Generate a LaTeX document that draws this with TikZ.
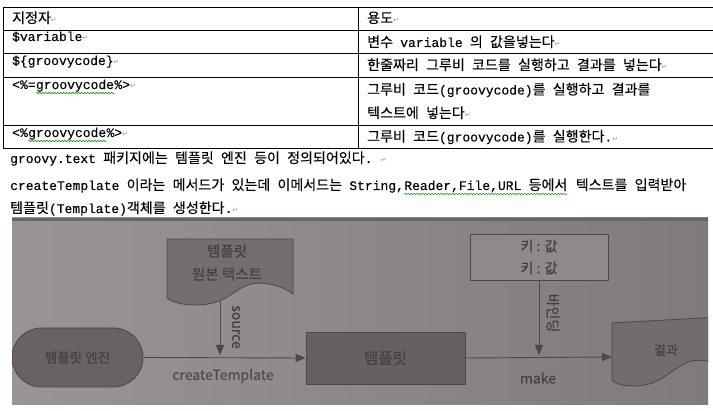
\documentclass[tikz,border=0pt]{standalone}
\usepackage{fontspec}
\setmainfont{Noto Sans CJK KR}[WordSpace=2.3, Scale=1.08, FakeBold=0.1]
\setmonofont{Liberation Mono}[FakeBold=0.15]
\newfontfamily\dejavu{DejaVu Sans}
\newfontfamily\dgm{Noto Sans CJK KR}[FakeBold=0.6]
\usetikzlibrary{arrows.meta,decorations.pathmorphing}
\definecolor{bgL}{RGB}{154,148,149}
\definecolor{bgR}{RGB}{128,122,124}
\definecolor{bandC}{RGB}{105,100,104}
\definecolor{edgeC}{RGB}{76,71,74}
\definecolor{txtC}{RGB}{68,63,66}
\definecolor{labC}{RGB}{78,76,86}
\definecolor{stadC}{RGB}{104,98,100}
\definecolor{tplC}{RGB}{102,96,98}
\definecolor{docC}{RGB}{116,110,112}
\definecolor{keyC}{RGB}{142,137,138}
\definecolor{resC}{RGB}{114,108,110}
\definecolor{retC}{RGB}{150,150,150}
\newcommand{\myret}{{\dejavu\fontsize{7}{7}\selectfont\color{retC}↵}}
\begin{document}
\begin{tikzpicture}[x=1pt,y=-1pt,
  tbl/.style={draw=black, line width=0.8pt},
  cell/.style={anchor=base west, inner sep=0pt, font=\fontsize{13}{15}\selectfont},
  wav/.style={draw=green!55!black, line width=0.5pt, decorate,
    decoration={snake, amplitude=0.7pt, segment length=3pt}},
  shp/.style={draw=edgeC, line width=0.8pt},
  lab/.style={inner sep=0pt, font=\dgm\fontsize{14}{16}\selectfont, text=txtC},
  arr/.style={draw=edgeC, line width=0.9pt, -{Triangle[length=10pt,width=8pt]}},
]
\useasboundingbox (0,0) rectangle (713,411);
\fill[white] (0,0) rectangle (713,411);

% ---------- table ----------
\draw[tbl] (3,7) -- (713,7);
\draw[tbl] (3,30) -- (713,30);
\draw[tbl] (3,53) -- (713,53);
\draw[tbl] (3,77) -- (713,77);
\draw[tbl] (3,125) -- (713,125);
\draw[tbl] (3,148) -- (713,148);
\draw[tbl] (3,7) -- (3,148);
\draw[tbl] (358,7) -- (358,148);

\node[cell] (h1) at (12,23) {지정자\myret};
\node[cell] (h2) at (367,23) {용도\myret};
\node[cell] (l1) at (12,41) {\texttt{\$variable}\myret};
\node[cell] (r1) at (367,47) {변수 \texttt{variable} 의 값을넣는다\myret};
\node[cell] (l2) at (12,65) {\texttt{\$\{groovycode\}}\myret};
\node[cell] (r2) at (367,70) {한줄짜리 그루비 코드를 실행하고 결과를 넣는다\myret};
\node[cell] (l3a) at (12,89) {\texttt{<\%=}};
\node[cell] (l3b) at (l3a.base east) {\texttt{groovycode}};
\node[cell] (l3c) at (l3b.base east) {\texttt{\%>}\myret};
\draw[wav] ([yshift=-4pt]l3b.base west) -- ([yshift=-4pt]l3b.base east);
\node[cell] (r3a) at (367,94.5) {그루비 코드\texttt{(groovycode)}를 실행하고 결과를};
\node[cell] (r3b) at (367,118) {텍스트에 넣는다\myret};
\node[cell] (l4a) at (12,137) {\texttt{<\%}};
\node[cell] (l4b) at (l4a.base east) {\texttt{groovycode}};
\node[cell] (l4c) at (l4b.base east) {\texttt{\%>}\myret};
\draw[wav] ([yshift=-4pt]l4b.base west) -- ([yshift=-4pt]l4b.base east);
\node[cell] (r4) at (367,141.5) {그루비 코드\texttt{(groovycode)}를 실행한다\texttt{.}\myret};

% ---------- paragraph lines ----------
\node[cell] (t1) at (10,163) {\texttt{groovy.text} 패키지에는 템플릿 엔진 등이 정의되어있다\texttt{.} \myret};
\node[cell] (t2a) at (10,190) {\texttt{createTemplate} 이라는 메서드가 있는데 이메서드는 \texttt{String,}};
\node[cell] (t2b) at (t2a.base east) {\texttt{Reader,File,URL} 등에서};
\draw[wav] ([yshift=-4pt]t2b.base west) -- ([yshift=-4pt]t2b.base east);
\node[cell] (t2c) at ([xshift=8pt]t2b.base east) {텍스트를 입력받아};
\node[cell] (t3) at (10,213) {템플릿\texttt{(Template)}객체를 생성한다\texttt{.}\myret};

% ---------- photographed diagram ----------
\begin{scope}
\clip (12,218) rectangle (708,405);
\shade[left color=bgL, right color=bgR] (12,218) rectangle (708,405);
\fill[bandC] (12,218) rectangle (708,221);

% template source document
\path[shp, fill=docC] (167,239) -- (293,239) -- (293,294)
  .. controls (283,286) and (262,280) .. (248,285)
  .. controls (232,291) and (225,305) .. (195,305)
  .. controls (182,305) and (172,302) .. (167,298) -- cycle;
\node[lab, font=\dgm\fontsize{14.5}{16}\selectfont] (d1) at (227,251) {템플릿};
\node[lab, font=\dgm\fontsize{14.5}{16}\selectfont] (d2) at (227,274) {원본 텍스트};

% engine
\node[shp, fill=stadC, rounded corners=29.5pt, minimum width=131pt, minimum height=59pt,
  inner sep=0pt, text=txtC, font=\dgm\fontsize{13.5}{16}\selectfont] (eng) at (77.5,357.5) {템플릿 엔진};

% template
\node[shp, fill=tplC, minimum width=159pt, minimum height=52pt, inner sep=0pt,
  text=txtC, font=\dgm\fontsize{15.5}{18}\selectfont] (tpl) at (385.5,358) {템플릿};

% key : value
\node[shp, fill=keyC, minimum width=138pt, minimum height=46pt, inner sep=0pt, align=center,
  text=txtC, font=\dgm\fontsize{14}{22}\selectfont] (kv) at (539,257) {키 : 값\\키 : 값};

% result document
\path[shp, fill=resC] (612,323) -- (720,317) -- (720,366)
  .. controls (705,358) and (692,359) .. (682,365)
  .. controls (668,373) and (657,386) .. (635,386)
  .. controls (624,386) and (615,384) .. (612,380) -- cycle;
\node[lab, font=\dgm\fontsize{13}{15}\selectfont] (resT) at (666,350) {결과};
\coordinate (res) at (612,357);

% connectors
\coordinate (s0) at (220,301);
\coordinate (s1) at (220,355);
\draw[arr] (s0) -- (s1);
\draw[arr] (eng.east) -- (tpl.west);
\coordinate (b1) at (539,355);
\draw[arr] (kv.south) -- (b1);
\draw[arr] (tpl.east) -- (res);

% labels
\node[lab, rotate=-90] (srcL) at (236,327) {source};
\node[lab, text=labC] (ctL) at (223,376) {createTemplate};
\node[lab, rotate=-90] (bdL) at (553,313) {바인딩};
\node[lab] (mkL) at (538,378) {make};
\end{scope}
\end{tikzpicture}
\end{document}
